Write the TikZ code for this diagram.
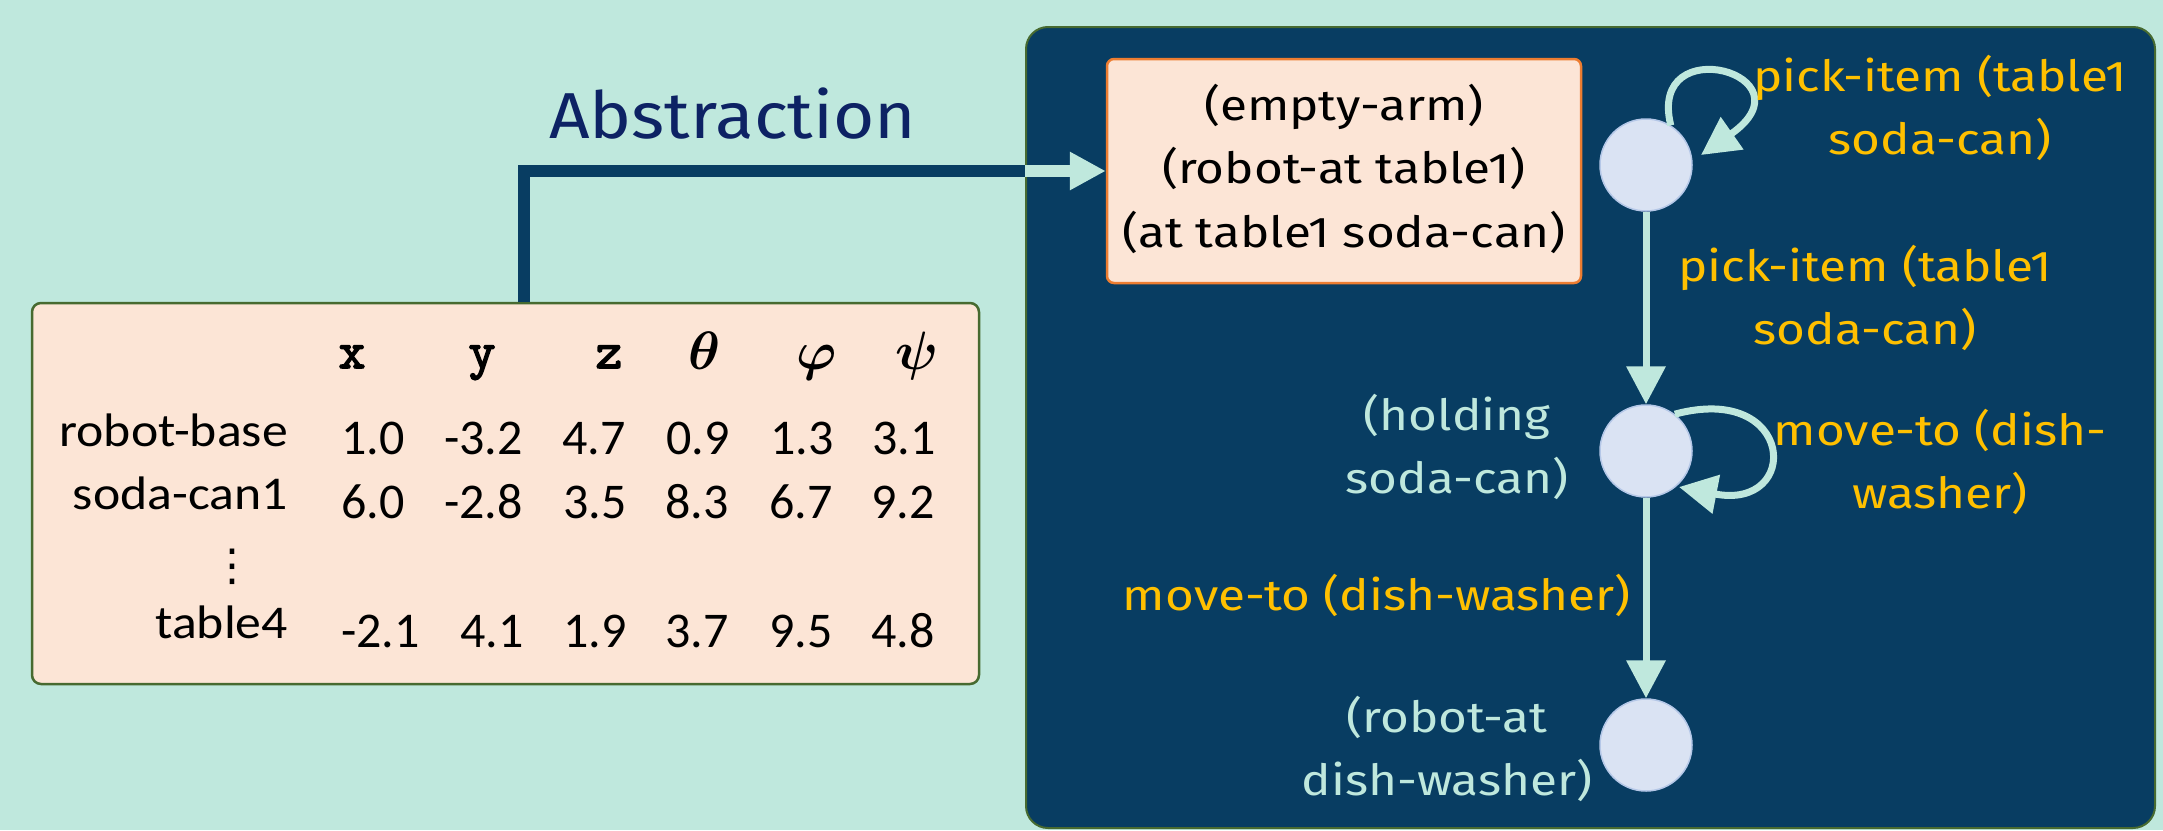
\RequirePackage{fix-cm}
\documentclass[tikz,border=0pt]{standalone}
\usepackage{fontspec}
\usepackage{bm}
\usetikzlibrary{arrows.meta}
\newfontfamily\lblfont{Carlito}[FakeStretch=1.1]
\newfontfamily\numfont{Carlito}
\newfontfamily\pfont{Fira Sans}[FakeStretch=1.15]
\newfontfamily\absfont{Fira Sans}[FakeStretch=1.09]
\newfontfamily\symfont{DejaVu Sans}
\newfontfamily\hdfont{Latin Modern Mono}[FakeBold=3]
\definecolor{bgmint}{HTML}{BFE8DD}
\definecolor{panelblue}{HTML}{083D62}
\definecolor{peach}{HTML}{FCE5D6}
\definecolor{orangeb}{HTML}{ED7D31}
\definecolor{greenb}{HTML}{476A30}
\definecolor{circfill}{HTML}{DAE3F3}
\definecolor{circline}{HTML}{B4C7E7}
\definecolor{labyellow}{HTML}{FFC000}
\definecolor{absblue}{HTML}{0D2264}
\tikzset{
  tbox/.style={draw=greenb, line width=2.5pt, fill=peach, rounded corners=9pt, inner sep=0pt},
  panelbox/.style={draw=greenb, line width=2pt, fill=panelblue, rounded corners=22pt, inner sep=0pt},
  sbox/.style={draw=orangeb, line width=2.5pt, fill=peach, rounded corners=7pt, inner sep=0pt,
    font=\pfont\fontsize{43}{63.5}\selectfont, text=black},
  state/.style={circle, fill=circfill, draw=circline, line width=1.5pt, minimum size=92pt, inner sep=0pt},
  tlabel/.style={font=\lblfont\fontsize{47}{55}\selectfont, anchor=base east, inner sep=0pt},
  tnum/.style={font=\numfont\fontsize{50}{60}\selectfont, anchor=base west, inner sep=0pt},
  thead/.style={anchor=base, inner sep=0pt},
  xyz/.style={thead, font=\hdfont\fontsize{52}{56}\selectfont},
  greek/.style={thead, font=\fontsize{54}{60}\selectfont},
  ptext/.style={font=\pfont\fontsize{43}{63.5}\selectfont, inner sep=0pt, anchor=base},
  edge/.style={draw=bgmint, line width=7pt, -{Triangle[length=38pt,width=38pt]}},
  absline/.style={draw=panelblue, line width=12pt},
  absarrow/.style={draw=bgmint, line width=12pt, -{Triangle[length=36pt,width=36pt]}},
}
\newcommand{\twol}[2]{\begin{tabular}[t]{@{}c@{}}#1\\#2\end{tabular}}
\begin{document}
\begin{tikzpicture}[x=1pt,y=1pt]
\useasboundingbox (0,0) rectangle (2163,-830);
\fill[bgmint] (0,0) rectangle (2163,-830);

% left table
\node[tbox, minimum width=947pt, minimum height=381pt] (tbl) at (505.5,-493.5) {};
\node[xyz] (hx) at (352,-368) {x};
\node[xyz] (hy) at (482,-368) {y};
\node[xyz] (hz) at (609,-368) {z};
\node[greek] (hth) at (705,-369) {$\bm{\theta}$};
\node[greek] (hph) at (817,-369) {$\bm{\varphi}$};
\node[greek] (hps) at (917,-369) {$\bm{\psi}$};

\node[tlabel] (r1) at (288,-446) {robot-base};
\node[tlabel] (r2) at (288,-509) {soda-can1};
\node[inner sep=0pt, font=\symfont\fontsize{44}{48}\selectfont] (dots) at (232,-567) {⋮};
\node[tlabel] (r3) at (288,-638) {table4};

\node[tnum] (n11) at (341,-454) {1.0};
\node[tnum] (n12) at (444,-454) {-3.2};
\node[tnum] (n13) at (562,-454) {4.7};
\node[tnum] (n14) at (666,-454) {0.9};
\node[tnum] (n15) at (770,-454) {1.3};
\node[tnum] (n16) at (872,-454) {3.1};
\node[tnum] (n21) at (341,-518) {6.0};
\node[tnum] (n22) at (444,-518) {-2.8};
\node[tnum] (n23) at (563,-518) {3.5};
\node[tnum] (n24) at (665,-518) {8.3};
\node[tnum] (n25) at (769,-518) {6.7};
\node[tnum] (n26) at (871,-518) {9.2};
\node[tnum] (n31) at (341,-647) {-2.1};
\node[tnum] (n32) at (460,-647) {4.1};
\node[tnum] (n33) at (563,-647) {1.9};
\node[tnum] (n34) at (665,-647) {3.7};
\node[tnum] (n35) at (769,-647) {9.5};
\node[tnum] (n36) at (871,-647) {4.8};

% abstraction label and dark connector
\node[font=\absfont\fontsize{65}{70}\selectfont, text=absblue, anchor=base west, inner sep=0pt] (abs) at (549,-138) {Abstraction};

\draw[absline] ([xshift=18.5pt]tbl.north) |- (1030,-171);

% right panel
\node[panelbox, minimum width=1129pt, minimum height=801pt] (panel) at (1590.5,-427.5) {};

\node[sbox, minimum width=474pt, minimum height=224pt] (s0) at (1344,-171)
  {\raisebox{-3pt}{\begin{tabular}{@{}c@{}}(empty-arm)\\(robot-at table1)\\(at table1 soda-can)\end{tabular}}};

\draw[absarrow] (panel.west |- s0.west) -- (s0.west);

\node[state] (c1) at (1646,-165) {};
\node[state] (c2) at (1646,-451) {};
\node[state] (c3) at (1646,-745) {};

\coordinate (l1e) at (1701,-155);
\coordinate (l2e) at (1679,-487);

\draw[edge] (c1) -- (c2);
\draw[edge] (c2) -- (c3);
\draw[edge] (c1.58) .. controls +(104:100) and +(35:140) .. (l1e);
\draw[edge] (c2.52) .. controls +(15:125) and +(-11:125) .. (l2e);

% labels
\node[ptext, text=labyellow] (lp1) at (1940,-91) {\twol{pick-item (table1}{soda-can)}};
\node[ptext, text=labyellow] (lp2) at (1865,-281) {\twol{pick-item (table1}{soda-can)}};
\node[ptext, text=labyellow] (lm1) at (1940,-445) {\twol{move-to (dish-}{washer)}};
\node[ptext, text=labyellow, anchor=base east] (lm2) at (1631,-610) {move-to (dish-washer)};
\node[ptext, text=bgmint] (sh) at (1457,-430) {\twol{(holding}{soda-can)}};
\node[ptext, text=bgmint] (sr) at (1447,-732) {\twol{(robot-at}{dish-washer)}};
\end{tikzpicture}
\end{document}
